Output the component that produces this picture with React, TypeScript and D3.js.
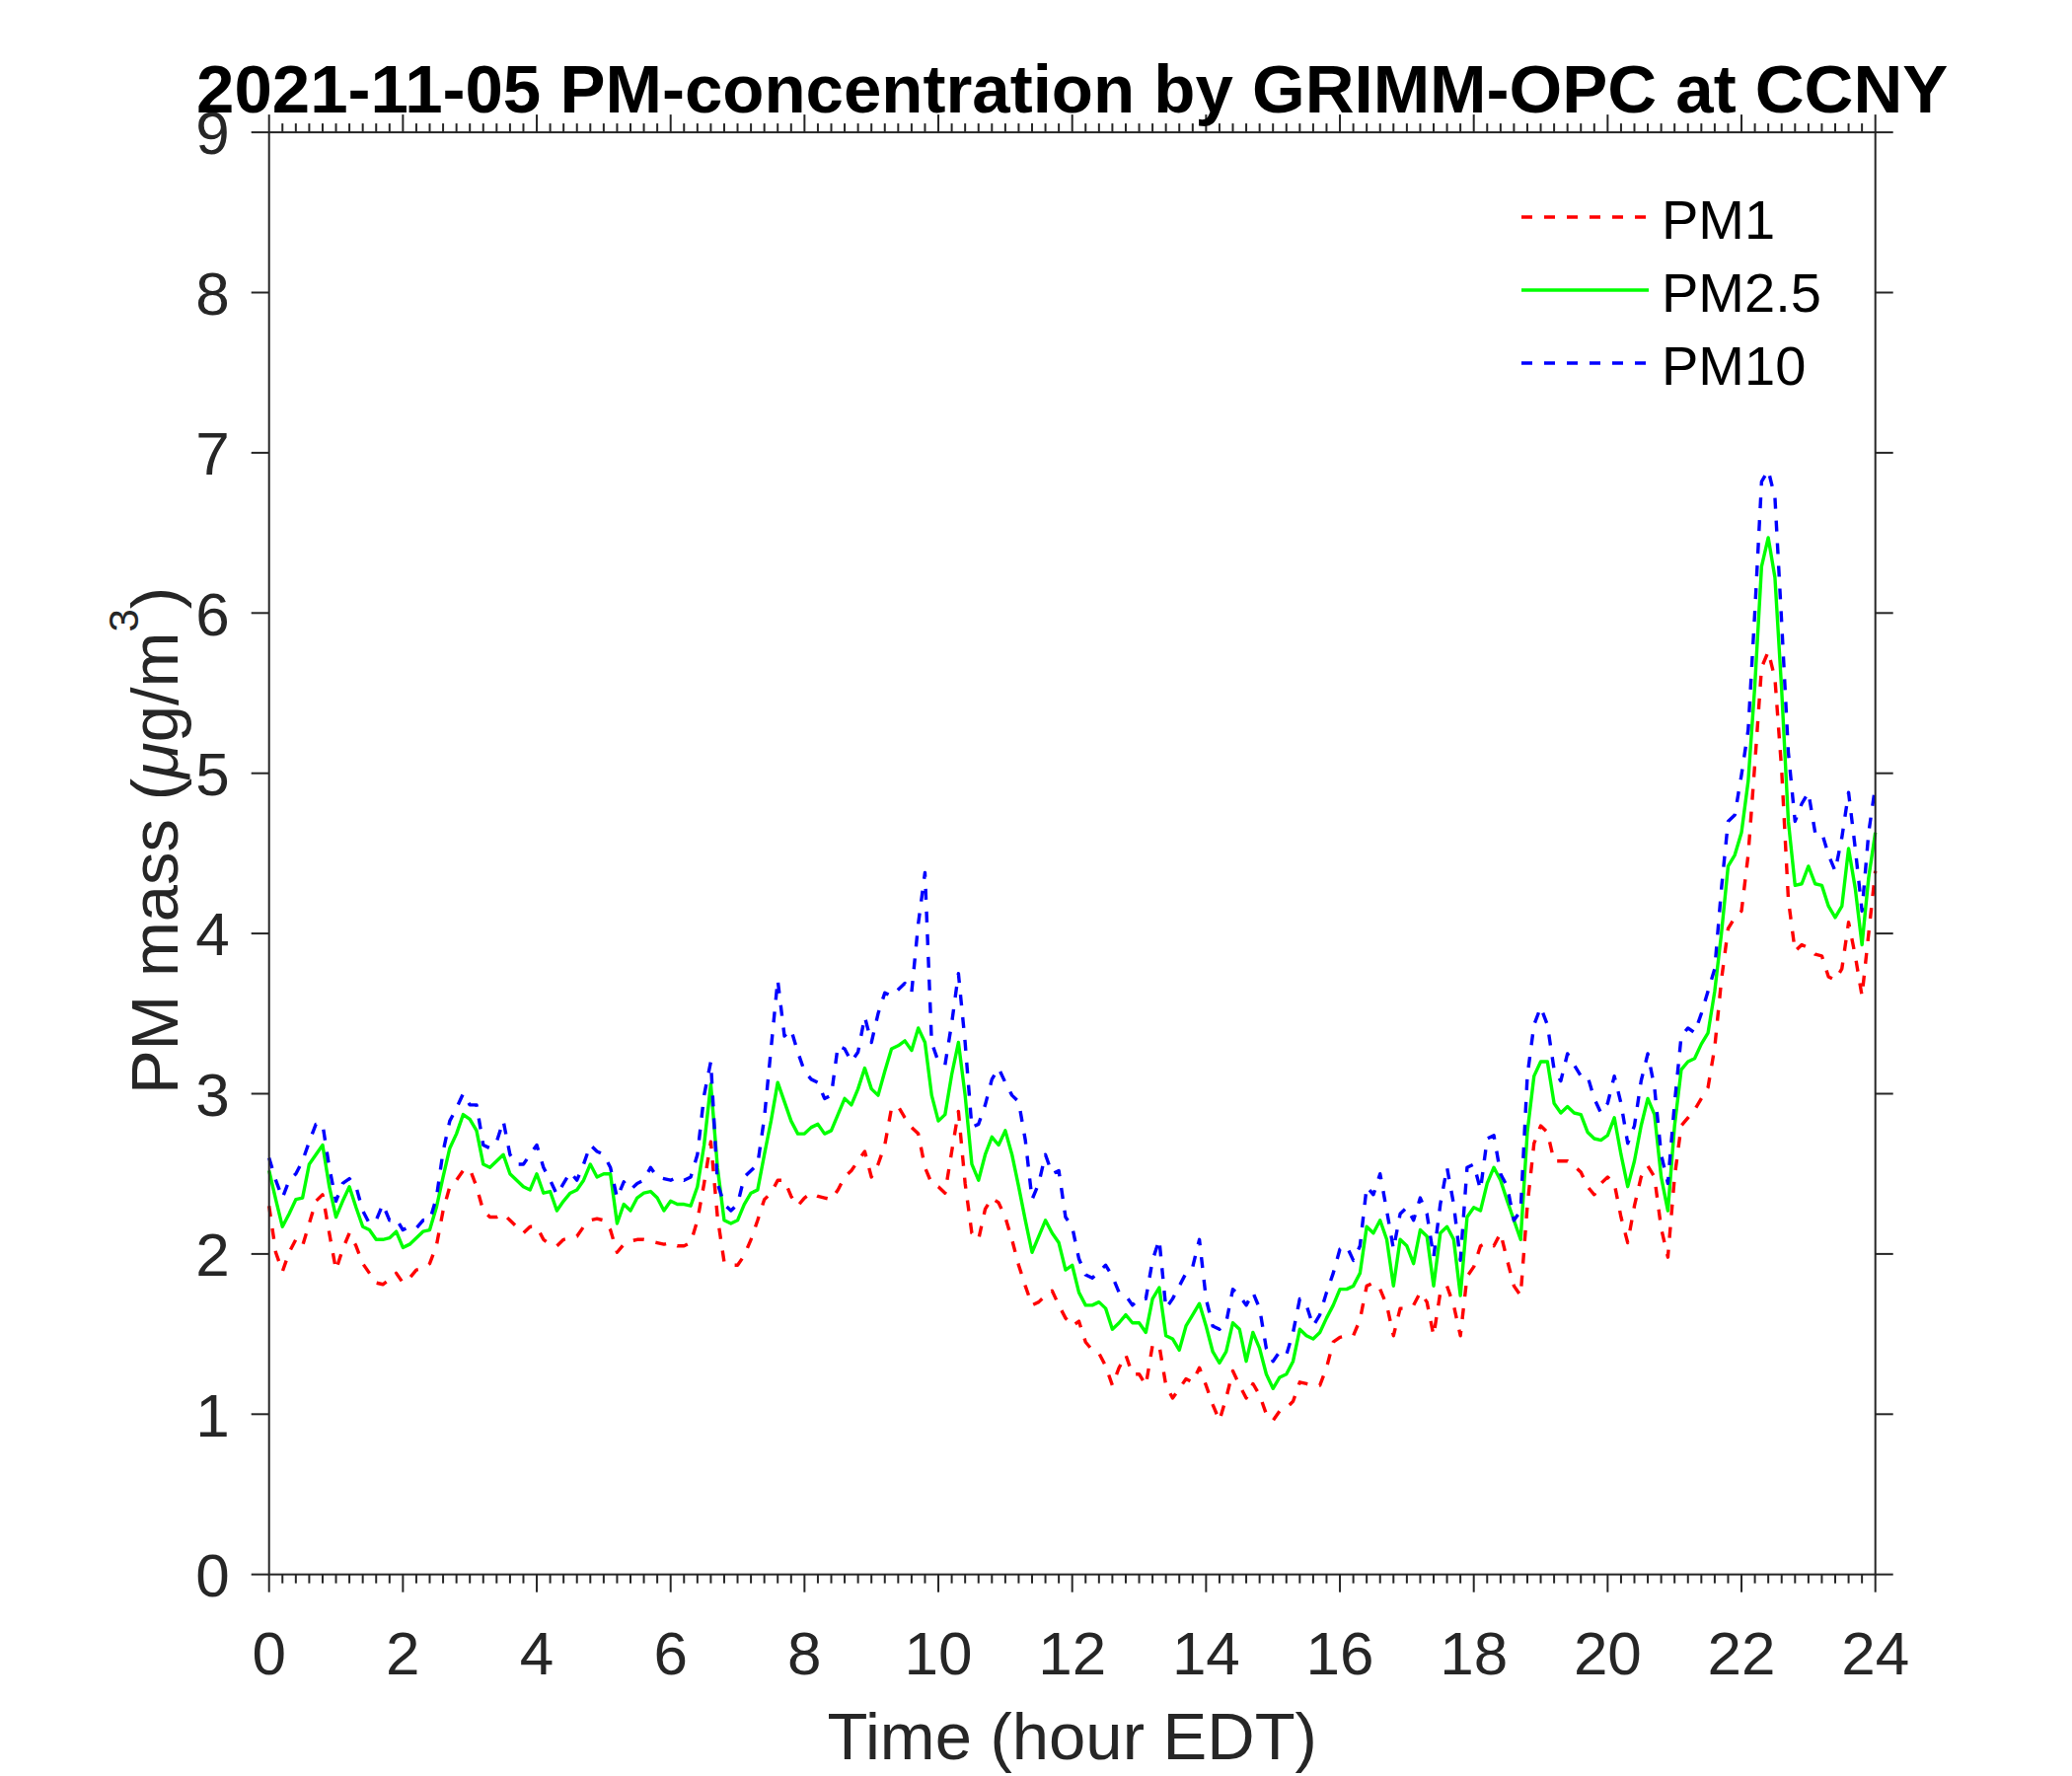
import * as d3 from 'd3';

// time axis, hours EDT, sampled every 0.1 h
const hours = d3.range(241).map(i => i / 10);

const pm1 = [
  2.30, 2.01, 1.89, 2.01, 2.09, 2.05, 2.19, 2.33, 2.37, 2.13,
  1.90, 2.03, 2.13, 2.05, 1.94, 1.88, 1.82, 1.81, 1.84, 1.88,
  1.82, 1.85, 1.90, 1.91, 1.94, 2.05, 2.27, 2.42, 2.46, 2.52,
  2.53, 2.42, 2.27, 2.23, 2.23, 2.25, 2.21, 2.17, 2.13, 2.17,
  2.17, 2.09, 2.06, 2.05, 2.09, 2.10, 2.11, 2.17, 2.21, 2.22,
  2.21, 2.15, 2.01, 2.06, 2.08, 2.09, 2.09, 2.08, 2.07, 2.06,
  2.07, 2.05, 2.05, 2.07, 2.21, 2.44, 2.70, 2.23, 1.95, 1.93,
  1.93, 1.99, 2.09, 2.21, 2.34, 2.38, 2.46, 2.46, 2.36, 2.30,
  2.35, 2.38, 2.36, 2.35, 2.34, 2.40, 2.48, 2.52, 2.58, 2.64,
  2.48, 2.56, 2.68, 2.91, 2.92, 2.85, 2.79, 2.75, 2.54, 2.44,
  2.42, 2.38, 2.64, 2.89, 2.44, 2.13, 2.09, 2.28, 2.35, 2.32,
  2.23, 2.09, 1.93, 1.80, 1.68, 1.70, 1.74, 1.77, 1.68, 1.60,
  1.55, 1.58, 1.45, 1.40, 1.38, 1.30, 1.18, 1.29, 1.37, 1.25,
  1.25, 1.18, 1.43, 1.43, 1.18, 1.10, 1.16, 1.22, 1.20, 1.29,
  1.18, 1.06, 0.96, 1.10, 1.27, 1.18, 1.10, 1.19, 1.12, 1.00,
  0.96, 1.02, 1.04, 1.08, 1.20, 1.19, 1.18, 1.18, 1.29, 1.45,
  1.48, 1.49, 1.49, 1.59, 1.80, 1.82, 1.78, 1.68, 1.49, 1.66,
  1.66, 1.68, 1.76, 1.70, 1.49, 1.76, 1.80, 1.68, 1.49, 1.86,
  1.92, 2.05, 2.07, 2.05, 2.13, 1.96, 1.80, 1.74, 2.30, 2.69,
  2.80, 2.76, 2.58, 2.58, 2.58, 2.55, 2.51, 2.42, 2.37, 2.44,
  2.48, 2.44, 2.23, 2.07, 2.30, 2.48, 2.55, 2.48, 2.16, 1.98,
  2.48, 2.80, 2.85, 2.90, 2.97, 3.04, 3.29, 3.71, 4.03, 4.10,
  4.14, 4.49, 5.06, 5.66, 5.76, 5.59, 5.02, 4.21, 3.89, 3.93,
  3.91, 3.87, 3.86, 3.73, 3.71, 3.78, 4.07, 3.86, 3.61, 4.00,
  4.39,
];

const pm25 = [
  2.52, 2.34, 2.17, 2.25, 2.34, 2.35, 2.56, 2.62, 2.68, 2.42,
  2.23, 2.33, 2.42, 2.29, 2.17, 2.15, 2.09, 2.09, 2.10, 2.14,
  2.04, 2.06, 2.10, 2.14, 2.15, 2.29, 2.48, 2.66, 2.75, 2.87,
  2.84, 2.77, 2.56, 2.54, 2.58, 2.62, 2.50, 2.46, 2.42, 2.40,
  2.50, 2.38, 2.39, 2.27, 2.33, 2.38, 2.40, 2.46, 2.56, 2.48,
  2.50, 2.50, 2.19, 2.31, 2.27, 2.35, 2.38, 2.39, 2.35, 2.27,
  2.33, 2.31, 2.31, 2.30, 2.42, 2.68, 3.06, 2.54, 2.21, 2.19,
  2.21, 2.31, 2.38, 2.40, 2.62, 2.83, 3.07, 2.95, 2.83, 2.75,
  2.75, 2.79, 2.81, 2.75, 2.77, 2.87, 2.97, 2.93, 3.03, 3.16,
  3.03, 2.99, 3.14, 3.28, 3.30, 3.33, 3.27, 3.41, 3.32, 2.99,
  2.83, 2.87, 3.12, 3.32, 2.99, 2.56, 2.46, 2.62, 2.73, 2.68,
  2.77, 2.62, 2.42, 2.21, 2.01, 2.11, 2.21, 2.13, 2.07, 1.90,
  1.93, 1.76, 1.68, 1.68, 1.70, 1.66, 1.53, 1.57, 1.62, 1.57,
  1.57, 1.51, 1.72, 1.79, 1.49, 1.47, 1.40, 1.55, 1.62, 1.69,
  1.55, 1.39, 1.32, 1.39, 1.57, 1.53, 1.33, 1.51, 1.41, 1.25,
  1.16, 1.23, 1.25, 1.33, 1.53, 1.49, 1.47, 1.51, 1.60, 1.68,
  1.78, 1.78, 1.80, 1.88, 2.17, 2.13, 2.21, 2.09, 1.80, 2.09,
  2.05, 1.94, 2.15, 2.11, 1.80, 2.13, 2.17, 2.09, 1.74, 2.23,
  2.29, 2.27, 2.44, 2.54, 2.46, 2.33, 2.21, 2.09, 2.76, 3.11,
  3.20, 3.20, 2.94, 2.88, 2.92, 2.88, 2.87, 2.76, 2.72, 2.71,
  2.74, 2.85, 2.62, 2.42, 2.58, 2.80, 2.97, 2.87, 2.48, 2.27,
  2.80, 3.15, 3.20, 3.22, 3.31, 3.38, 3.64, 4.00, 4.42, 4.49,
  4.63, 4.95, 5.55, 6.29, 6.47, 6.22, 5.52, 4.70, 4.30, 4.31,
  4.42, 4.31, 4.30, 4.17, 4.10, 4.17, 4.53, 4.28, 3.93, 4.35,
  4.63,
];

const pm10 = [
  2.60, 2.46, 2.35, 2.46, 2.50, 2.58, 2.70, 2.81, 2.81, 2.54,
  2.33, 2.44, 2.47, 2.42, 2.27, 2.19, 2.21, 2.31, 2.21, 2.22,
  2.15, 2.17, 2.16, 2.21, 2.21, 2.35, 2.64, 2.83, 2.91, 3.00,
  2.93, 2.93, 2.68, 2.66, 2.70, 2.83, 2.62, 2.56, 2.56, 2.62,
  2.68, 2.54, 2.46, 2.37, 2.44, 2.51, 2.46, 2.56, 2.68, 2.64,
  2.62, 2.54, 2.35, 2.45, 2.40, 2.44, 2.46, 2.54, 2.48, 2.47,
  2.46, 2.48, 2.46, 2.48, 2.62, 2.99, 3.20, 2.44, 2.31, 2.27,
  2.31, 2.48, 2.52, 2.56, 2.85, 3.28, 3.71, 3.36, 3.40, 3.26,
  3.14, 3.09, 3.07, 2.97, 2.99, 3.30, 3.28, 3.20, 3.26, 3.48,
  3.32, 3.50, 3.63, 3.61, 3.65, 3.69, 3.63, 4.06, 4.38, 3.32,
  3.20, 3.18, 3.44, 3.75, 3.32, 2.79, 2.81, 2.93, 3.09, 3.16,
  3.07, 2.99, 2.95, 2.71, 2.34, 2.44, 2.62, 2.50, 2.52, 2.23,
  2.17, 1.97, 1.87, 1.85, 1.89, 1.93, 1.86, 1.76, 1.74, 1.68,
  1.72, 1.72, 1.96, 2.09, 1.66, 1.72, 1.80, 1.88, 1.92, 2.09,
  1.72, 1.55, 1.53, 1.57, 1.78, 1.74, 1.68, 1.76, 1.66, 1.41,
  1.33, 1.39, 1.37, 1.51, 1.72, 1.68, 1.55, 1.62, 1.76, 1.88,
  2.03, 2.05, 1.96, 2.05, 2.42, 2.37, 2.50, 2.27, 2.03, 2.25,
  2.29, 2.21, 2.35, 2.25, 1.98, 2.31, 2.54, 2.31, 1.96, 2.54,
  2.56, 2.40, 2.72, 2.74, 2.50, 2.42, 2.21, 2.27, 3.11, 3.43,
  3.54, 3.43, 3.15, 3.08, 3.25, 3.18, 3.11, 3.11, 2.97, 2.88,
  2.94, 3.11, 2.94, 2.69, 2.80, 3.08, 3.25, 3.04, 2.62, 2.44,
  2.94, 3.36, 3.41, 3.38, 3.50, 3.64, 3.78, 4.28, 4.70, 4.74,
  4.99, 5.27, 6.01, 6.82, 6.89, 6.72, 5.94, 5.13, 4.70, 4.81,
  4.88, 4.63, 4.63, 4.49, 4.39, 4.60, 4.88, 4.53, 4.14, 4.63,
  4.92,
];

const seriesNames = ['PM1', 'PM2.5', 'PM10'];
const seriesValues = [pm1, pm25, pm10];
const seriesColors = ['#ff0000', '#00ff00', '#0000ff'];
const seriesDashes = ['11,12', null, '11,12'];

const W = 2100;
const H = 1800;
const left = 272.7;
const right = 1900.7;
const top = 134.1;
const bottom = 1595.7;
const axisColor = '#262626';
const font = '"Liberation Sans", Arial, Helvetica, sans-serif';

export default function App() {
  const x = d3.scaleLinear().domain([0, 24]).range([left, right]);
  const y = d3.scaleLinear().domain([0, 9]).range([bottom, top]);

  const line = d3.line<number>()
    .x((_, i) => x(hours[i]))
    .y(d => y(d));

  const xMajor = x.ticks(12);
  const xMinor = x.ticks(120).filter(t => Math.abs(t / 2 - Math.round(t / 2)) > 1e-6);
  const yMajor = y.ticks(9);

  const majorLen = 18;
  const minorLen = 9;

  return (
    <svg
      width={W}
      height={H}
      style={{ position: 'absolute', left: 0, top: 0, background: '#fff' }}
      fontFamily={font}
    >
      <rect x={0} y={0} width={W} height={H} fill="#fff" />

      {/* data lines */}
      <g fill="none" strokeWidth={3.4} strokeLinejoin="round">
        {seriesValues.map((vals, k) => (
          <path
            key={seriesNames[k]}
            d={line(vals) as string}
            stroke={seriesColors[k]}
            strokeDasharray={seriesDashes[k] ?? undefined}
          />
        ))}
      </g>

      {/* axes box and ticks */}
      <g stroke={axisColor} strokeWidth={2} fill="none">
        <rect x={left} y={top} width={right - left} height={bottom - top} />
        {xMajor.map(t => (
          <g key={'xM' + t}>
            <line x1={x(t)} x2={x(t)} y1={bottom} y2={bottom + majorLen} />
            <line x1={x(t)} x2={x(t)} y1={top} y2={top - majorLen} />
          </g>
        ))}
        {xMinor.map(t => (
          <g key={'xm' + t}>
            <line x1={x(t)} x2={x(t)} y1={bottom} y2={bottom + minorLen} />
            <line x1={x(t)} x2={x(t)} y1={top} y2={top - minorLen} />
          </g>
        ))}
        {yMajor.map(t => (
          <g key={'yM' + t}>
            <line x1={left} x2={left - majorLen} y1={y(t)} y2={y(t)} />
            <line x1={right} x2={right + majorLen} y1={y(t)} y2={y(t)} />
          </g>
        ))}
      </g>

      {/* tick labels */}
      <g fill={axisColor} fontSize={62}>
        {xMajor.map(t => (
          <text key={'xl' + t} x={x(t)} y={bottom + 101} textAnchor="middle">
            {t}
          </text>
        ))}
        {yMajor.map(t => (
          <text key={'yl' + t} x={left - 40} y={y(t)} dy="0.36em" textAnchor="end">
            {t}
          </text>
        ))}
      </g>

      {/* axis labels */}
      <text
        x={(left + right) / 2}
        y={1783}
        textAnchor="middle"
        fontSize={67}
        fill={axisColor}
      >
        Time (hour EDT)
      </text>
      <text
        transform={`translate(180, 852) rotate(-90)`}
        textAnchor="middle"
        fontSize={67}
        fill={axisColor}
      >
        PM mass (<tspan fontStyle="italic">μ</tspan>g/m
        <tspan fontSize={42} dy={-40}>3</tspan>
        <tspan dy={40}>)</tspan>
      </text>

      {/* title */}
      <text
        x={(left + right) / 2}
        y={114}
        textAnchor="middle"
        fontSize={69}
        fontWeight="bold"
        fill="#000"
      >
        2021-11-05 PM-concentration by GRIMM-OPC at CCNY
      </text>

      {/* legend */}
      <g>
        {seriesNames.map((name, k) => {
          const ly = 220 + k * 74;
          return (
            <g key={'lg' + name}>
              <line
                x1={1542}
                x2={1671}
                y1={ly}
                y2={ly}
                stroke={seriesColors[k]}
                strokeWidth={3.4}
                strokeDasharray={seriesDashes[k] ?? undefined}
              />
              <text x={1684} y={ly + 22} fontSize={56} fill="#000">
                {name}
              </text>
            </g>
          );
        })}
      </g>
    </svg>
  );
}
